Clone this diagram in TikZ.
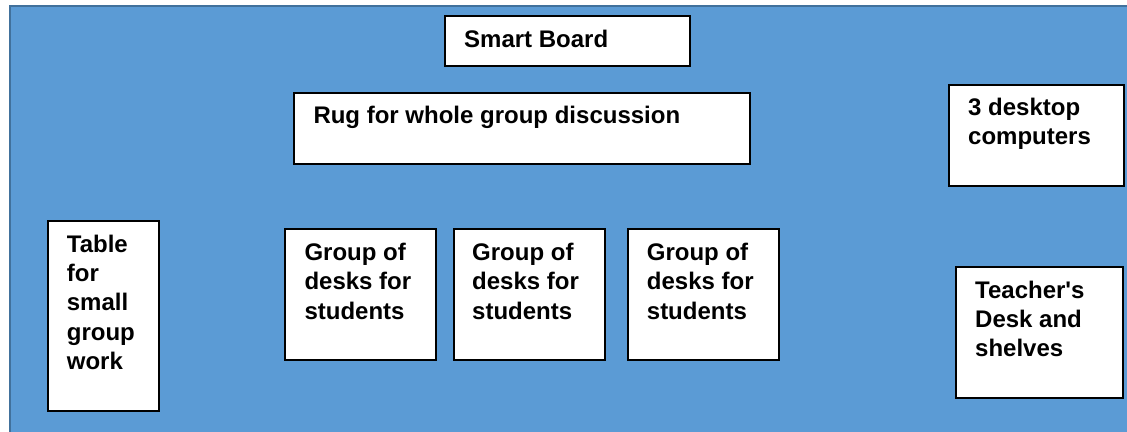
\documentclass[tikz,border=0pt]{standalone}
\usepackage{fontspec}
\setmainfont{Liberation Sans}[Ligatures=TeXOff]
\definecolor{roombg}{HTML}{5B9BD5}
\definecolor{roomline}{HTML}{41719C}
\begin{document}
\begin{tikzpicture}[x=1pt,y=-1pt,
  box/.style={draw=black, line width=2pt, fill=white, inner sep=0pt, anchor=north west},
  lbl/.style={anchor=north west, inner sep=0pt, align=left,
    font=\fontsize{24}{29.3}\selectfont\bfseries}]
\useasboundingbox (0,0) rectangle (1127,431);
\fill[white] (0,0) rectangle (1127,431);
\draw[fill=roombg, draw=roomline, line width=1.5pt] (10,6) rectangle (1135,440);
% boxes
\node[box, minimum width=245pt, minimum height=50pt] (sb) at (444.3,15.3) {};
\node[box, minimum width=456pt, minimum height=71pt] (rug) at (292.7,92) {};
\node[box, minimum width=175pt, minimum height=101pt] (pc) at (948.3,83.7) {};
\node[box, minimum width=111pt, minimum height=190pt] (tbl) at (46.7,220) {};
\node[box, minimum width=151pt, minimum height=131pt] (g1) at (284.3,227.7) {};
\node[box, minimum width=151pt, minimum height=131pt] (g2) at (452.7,227.7) {};
\node[box, minimum width=151pt, minimum height=131pt] (g3) at (626.7,227.7) {};
\node[box, minimum width=167pt, minimum height=131pt] (tch) at (955,266) {};
% labels
\node[lbl] (sbt) at (464,30) {Smart Board};
\node[lbl] (rugt) at (313.3,105.7) {Rug for whole group discussion};
\node[lbl] (pct) at (968,98) {3 desktop\\computers};
\node[lbl] (tblt) at (66.7,234.7) {Table\\for\\small\\group\\work};
\node[lbl] (g1t) at (304.3,243) {Group of\\desks for\\students};
\node[lbl] (g2t) at (472,243) {Group of\\desks for\\students};
\node[lbl] (g3t) at (646.7,243) {Group of\\desks for\\students};
\node[lbl] (tcht) at (975,280.7) {Teacher's\\Desk and\\shelves};
\end{tikzpicture}
\end{document}
